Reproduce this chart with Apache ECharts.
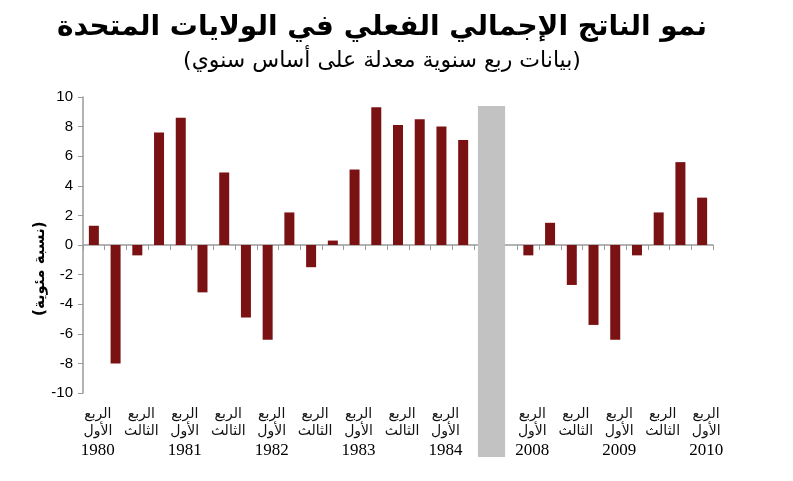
<!DOCTYPE html>
<html>
<head>
    <meta charset="utf-8">
    <title>نمو الناتج الإجمالي الفعلي في الولايات المتحدة</title>
    <script src="https://cdn.jsdelivr.net/npm/echarts@6/dist/echarts.min.js"></script>
    <style>
        html, body { margin: 0; padding: 0; background: #fff; }
        #main { width: 793px; height: 481px; }
    </style>
</head>
<body>
<div id="main"></div>

<script type="text/javascript">
    // quarters: "year-quarter", two empty slots make the gap between the two periods
    var quarters = [
        '1980-1', '1980-2', '1980-3', '1980-4',
        '1981-1', '1981-2', '1981-3', '1981-4',
        '1982-1', '1982-2', '1982-3', '1982-4',
        '1983-1', '1983-2', '1983-3', '1983-4',
        '1984-1', '1984-2',
        'gap-a', 'gap-b',
        '2008-1', '2008-2', '2008-3', '2008-4',
        '2009-1', '2009-2', '2009-3', '2009-4',
        '2010-1'
    ];
    // annualised quarterly growth, %
    var growth = [
        1.3, -8.0, -0.7, 7.6,
        8.6, -3.2, 4.9, -4.9,
        -6.4, 2.2, -1.5, 0.3,
        5.1, 9.3, 8.1, 8.5,
        8.0, 7.1,
        null, null,
        -0.7, 1.5, -2.7, -5.4,
        -6.4, -0.7, 2.2, 5.6,
        3.2
    ];
    var quarterNames = { '1': 'الأول', '3': 'الثالث' };
    var gapSlots = ['gap-a', 'gap-b'];

    var arFont = '"DejaVu Sans", sans-serif';

    var myChart = echarts.init(document.getElementById('main'));

    myChart.setOption({
        animation: false,
        title: {
            text: 'نمو الناتج الإجمالي الفعلي في الولايات المتحدة',
            subtext: '(بيانات ربع سنوية معدلة على أساس سنوي)',
            left: 377,
            textAlign: 'center',
            top: 9,
            itemGap: 8,
            textStyle: { fontFamily: arFont, fontSize: 28, fontWeight: 'bold', color: '#000' },
            subtextStyle: { fontFamily: arFont, fontSize: 22, color: '#000' }
        },
        grid: { left: 83, right: 80, top: 97, bottom: 88, containLabel: false },
        xAxis: [{
            // axis line through zero with a tick at every quarter
            type: 'category',
            data: quarters,
            axisLine: { onZero: true, lineStyle: { color: '#9a9a9a', width: 1.5 } },
            axisTick: { show: true, interval: 0, length: 5, lineStyle: { color: '#9a9a9a' } },
            axisLabel: { show: false },
            splitLine: { show: false }
        }, {
            // labels under the plot
            type: 'category',
            data: quarters,
            position: 'bottom',
            axisLine: { show: false, onZero: false },
            axisTick: { show: false },
            axisLabel: {
                interval: function (i, v) {
                    var q = v.split('-')[1];
                    return quarterNames.hasOwnProperty(q);
                },
                margin: 13,
                padding: [0, 0, 0, 8],
                formatter: function (v) {
                    var p = v.split('-');
                    var s = '{ar|الربع}\n{ar|' + quarterNames[p[1]] + '}';
                    if (p[1] === '1') s += '\n{yr|' + p[0] + '}';
                    return s;
                },
                rich: {
                    ar: { fontFamily: arFont, fontSize: 14, lineHeight: 17, color: '#111' },
                    yr: { fontFamily: '"Liberation Serif", serif', fontSize: 17, lineHeight: 22, color: '#000' }
                }
            }
        }],
        yAxis: {
            type: 'value',
            min: -10,
            max: 10,
            interval: 2,
            axisLine: { show: true, lineStyle: { color: '#9a9a9a', width: 1.5 } },
            axisTick: { show: true, length: 5, lineStyle: { color: '#9a9a9a' } },
            axisLabel: { fontFamily: '"Liberation Sans", Arial, sans-serif', fontSize: 15, color: '#000', margin: 10 },
            splitLine: { show: false }
        },
        series: [{
            name: 'growth',
            type: 'bar',
            data: growth,
            barWidth: 10,
            itemStyle: { color: '#7a1214' }
        }]
    });

    // grey separator between the two periods, placed through the axis scales
    var xa = myChart.convertToPixel({ xAxisIndex: 0 }, gapSlots[0]);
    var xb = myChart.convertToPixel({ xAxisIndex: 0 }, gapSlots[1]);
    var step = xb - xa;
    var yTop = myChart.convertToPixel({ yAxisIndex: 0 }, 9.4);
    var yBot = myChart.convertToPixel({ yAxisIndex: 0 }, -10) + 64;

    myChart.setOption({
        graphic: [{
            type: 'rect',
            z: 50,
            shape: { x: xa - step * 0.32, y: yTop, width: step * 1.25, height: yBot - yTop },
            style: { fill: '#c2c2c2' }
        }, {
            type: 'text',
            z: 50,
            x: 40,
            y: myChart.convertToPixel({ yAxisIndex: 0 }, -1.6),
            rotation: Math.PI / 2,
            style: {
                text: '(نسبة مئوية)',
                fontFamily: arFont,
                fontSize: 15,
                fontWeight: 'bold',
                fill: '#000',
                align: 'center',
                verticalAlign: 'middle'
            }
        }]
    });
</script>
</body>
</html>
